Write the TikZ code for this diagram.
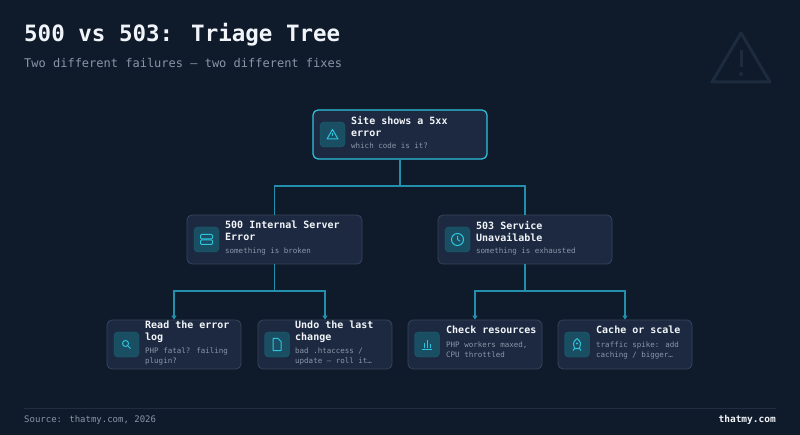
\documentclass[tikz,border=0pt]{standalone}
\usepackage{fontspec}
\setmainfont{DejaVu Sans Mono}
\usetikzlibrary{arrows.meta}
\definecolor{bg}{HTML}{0F1A2B}
\definecolor{card}{HTML}{1D2940}
\definecolor{cardb}{HTML}{364559}
\definecolor{cy}{HTML}{2EC4DE}
\definecolor{ln}{HTML}{2290AD}
\definecolor{ibox}{HTML}{1A4F63}
\definecolor{sub}{HTML}{8A96A8}
\definecolor{ttl}{HTML}{F1F5F9}
\definecolor{wm}{HTML}{1C2B3E}
\tikzset{
 card/.style={draw=cardb,fill=card,rounded corners=5pt,line width=0.8pt,minimum width=#1,minimum height=49pt,inner sep=0pt},
 ic/.style={draw=ln!70!black,fill=ibox,rounded corners=4pt,minimum size=25pt,inner sep=0pt},
 head/.style={anchor=north west,font=\bfseries\fontsize{10}{12}\selectfont,text=ttl,align=left,inner sep=0pt},
 note/.style={anchor=north west,font=\fontsize{7.5}{10}\selectfont,text=sub,align=left,inner sep=0pt},
 con/.style={ln,line width=1.2pt},
 arr/.style={con,-{Triangle[length=4pt,width=5pt]}},
 glyph/.style={cy,line width=1pt}
}
\begin{document}
\begin{tikzpicture}[x=1pt,y=-1pt]
\fill[bg] (0,0) rectangle (800,435);
\useasboundingbox (0,0) rectangle (800,435);
\node[anchor=west,font=\bfseries\fontsize{22.5}{26}\selectfont,text=ttl,inner sep=0pt] (title) at (24,35) {500 vs 503: Triage Tree};
\node[anchor=west,font=\fontsize{12}{14}\selectfont,text=sub,inner sep=0pt] (subt) at (24,63) {Two different failures — two different fixes};
% watermark
\draw[wm,line width=3pt,line join=round] (741,33) -- (770,82) -- (712,82) -- cycle;
\draw[wm,line width=3pt] (741,50) -- (741,67);
\fill[wm] (741,74) circle (2pt);
% nodes
\node[card=174pt,draw=cy,line width=1.2pt] (root) at (400,134.5) {};
\node[card=175pt] (a) at (274.5,239.5) {};
\node[card=174pt] (b) at (525,239.5) {};
\node[card=134pt] (a1) at (174,344.5) {};
\node[card=134pt] (a2) at (325,344.5) {};
\node[card=134pt] (b1) at (475,344.5) {};
\node[card=134pt] (b2) at (625,344.5) {};
% icons
\node[ic] (ir) at (332.5,134.5) {};
\draw[glyph,line join=round] ([shift={(0,-5)}]ir.center) -- ++(5.5,9.5) -- ++(-11,0) -- cycle;
\draw[cy,line width=0.8pt] ([shift={(0,-1.5)}]ir.center) -- ++(0,3);
\node[ic] (ia) at (206.5,239.5) {};
\draw[glyph,rounded corners=1pt] ([shift={(-6,-5)}]ia.center) rectangle ++(12,4.5);
\draw[glyph,rounded corners=1pt] ([shift={(-6,0.5)}]ia.center) rectangle ++(12,4.5);
\node[ic] (ib) at (457.5,239.5) {};
\draw[glyph] (ib.center) circle (6pt);
\draw[glyph] (ib.center) -- ++(0,-3.5) (ib.center) -- ++(2.5,1.5);
\node[ic] (ia1) at (126.5,344.5) {};
\draw[glyph] ([shift={(-1,-1)}]ia1.center) circle (3pt);
\draw[glyph] ([shift={(1.2,1.2)}]ia1.center) -- ++(2.8,2.8);
\node[ic] (ia2) at (277,344.5) {};
\draw[glyph,line join=round] ([shift={(-4,-6)}]ia2.center) -- ++(5,0) -- ++(3,3) -- ++(0,9) -- ++(-8,0) -- cycle;
\node[ic] (ib1) at (427,344.5) {};
\draw[glyph] ([shift={(-5,5)}]ib1.center) -- ++(10,0);
\draw[glyph] ([shift={(-3,4)}]ib1.center) -- ++(0,-5) ([shift={(0,4)}]ib1.center) -- ++(0,-8) ([shift={(3,4)}]ib1.center) -- ++(0,-4);
\node[ic] (ib2) at (577,344.5) {};
\draw[glyph,line join=round] ([shift={(0,-6)}]ib2.center) .. controls ([shift={(4,-2)}]ib2.center) .. ([shift={(2.5,4)}]ib2.center) -- ([shift={(-2.5,4)}]ib2.center) .. controls ([shift={(-4,-2)}]ib2.center) .. ([shift={(0,-6)}]ib2.center);
\draw[glyph] ([shift={(-2.5,4)}]ib2.center) -- ++(-1.5,2) ([shift={(2.5,4)}]ib2.center) -- ++(1.5,2);
\fill[cy] ([shift={(0,-1)}]ib2.center) circle (1.1pt);
% texts
\node[head] (tr) at (351,116) {Site shows a 5xx\\error};
\node[note] (nr) at (351,143) {which code is it?};
\node[head] (ta) at (225,221) {500 Internal Server\\Error};
\node[note] (na) at (225,248) {something is broken};
\node[head] (tb) at (476,221) {503 Service\\Unavailable};
\node[note] (nb) at (476,248) {something is exhausted};
\node[head] (ta1) at (145,321) {Read the error\\log};
\node[note] (na1) at (145,348) {PHP fatal? failing\\plugin?};
\node[head] (ta2) at (295,321) {Undo the last\\change};
\node[note] (na2) at (295,348) {bad .htaccess /\\update — roll it…};
\node[head] (tb1) at (446,326) {Check resources};
\node[note] (nb1) at (446,342) {PHP workers maxed,\\CPU throttled};
\node[head] (tb2) at (596,326) {Cache or scale};
\node[note] (nb2) at (596,342) {traffic spike: add\\caching / bigger…};
% connectors
\coordinate (j0) at (400,186);
\coordinate (ja) at (274.5,291);
\coordinate (jb) at (525,291);
\draw[con] (root.south) -- (j0);
\draw[con] (j0) -| (a.north);
\draw[con] (j0) -| (b.north);
\draw[con] (a.south) -- (ja);
\draw[con] (b.south) -- (jb);
\draw[arr] (ja) -| (a1.north);
\draw[arr] (ja) -| (a2.north);
\draw[arr] (jb) -| (b1.north);
\draw[arr] (jb) -| (b2.north);
% footer
\draw[cardb!45!bg,line width=0.6pt] (24,408) -- (776,408);
\node[anchor=west,font=\fontsize{9}{10}\selectfont,text=sub,inner sep=0pt] (src) at (24,420) {Source: thatmy.com, 2026};
\node[anchor=east,font=\bfseries\fontsize{9.5}{10}\selectfont,text=ttl,inner sep=0pt] (brand) at (776,420) {thatmy.com};
\end{tikzpicture}
\end{document}
